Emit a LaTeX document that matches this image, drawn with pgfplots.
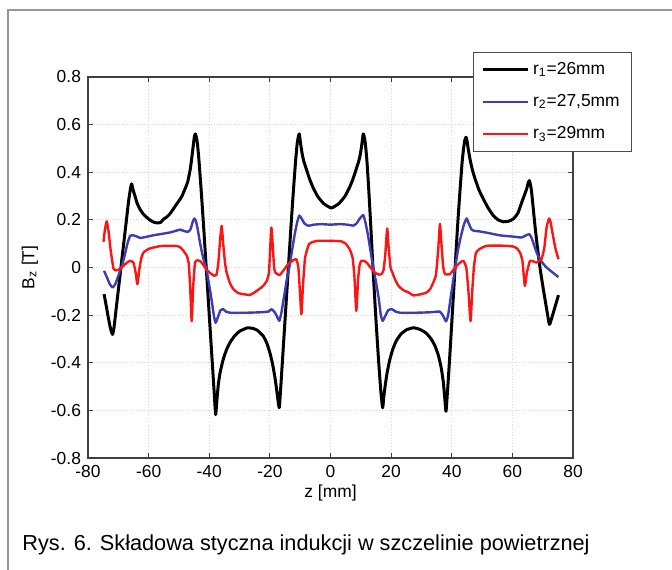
\documentclass[border=0pt]{standalone}
\usepackage{fontspec}
\setmainfont{Liberation Sans}
\usepackage{pgfplots}
\pgfplotsset{compat=1.18}
\definecolor{mblue}{RGB}{60,60,180}
\definecolor{mred}{RGB}{255,20,20}
\definecolor{framegray}{RGB}{150,150,150}
\begin{document}
\begin{tikzpicture}
\path[use as bounding box] (0,0) rectangle (336pt,284.5pt);
\draw[line width=0.8pt, framegray] (4pt,-5pt) -- (4pt,279.5pt) -- (345pt,279.5pt);
\node[anchor=base west, font=\fontsize{10.85}{13}\selectfont, inner sep=0pt] at (11pt,9.5pt) {Rys. 6. Składowa styczna indukcji w szczelinie powietrznej};
\begin{axis}[
  at={(44pt,55.5pt)}, anchor=south west,
  scale only axis, width=242.5pt, height=190.5pt,
  xmin=-80, xmax=80, ymin=-0.8, ymax=0.8,
  xtick={-80,-60,-40,-20,0,20,40,60,80},
  xticklabels={-80,-60,-40,-20,0,20,40,60,80},
  ytick={-0.8,-0.6,-0.4,-0.2,0,0.2,0.4,0.6,0.8},
  yticklabels={-0.8,-0.6,-0.4,-0.2,0,0.2,0.4,0.6,0.8},
  tick pos=both, tick align=inside, major tick length=2.5pt,
  axis line style={draw=black!75, line width=0.6pt},
  tick style={draw=black!75, line width=0.5pt},
  grid=major, grid style={densely dotted, black!15, line width=0.4pt},
  tick label style={font=\fontsize{8.7}{10}\selectfont},
  label style={font=\fontsize{8.7}{10}\selectfont},
  xlabel={z [mm]}, ylabel={B\textsubscript{z} [T]},
  xlabel style={at={(axis description cs:0.5,-0.092)}, anchor=center},
  ylabel style={at={(axis description cs:-0.12,0.5)}, anchor=center},
  legend style={at={(0.793,1.066)}, anchor=north west, draw=black!70, line width=0.5pt, fill=white,
    font=\fontsize{8.7}{10}\selectfont, row sep=4.5pt, inner xsep=4pt, inner ysep=3pt},
  legend cell align=left,
  legend image code/.code={\draw[#1] (0pt,0pt) -- (22.5pt,0pt);},
  every axis plot/.append style={smooth, tension=0.3, line join=round},
]
\addplot[black, line width=1.5pt] coordinates {
(-74.7,-0.112) (-74.0,-0.16) (-73.3,-0.21) (-72.6,-0.255) (-71.9,-0.281) (-71.4,-0.25) (-70.5,-0.15) (-69.5,-0.04) (-68.5,0.07) (-67.5,0.18) (-66.6,0.28) (-66.0,0.33) (-65.6,0.351)
(-65.1,0.325) (-64.5,0.30) (-63.8,0.27) (-62.9,0.246) (-61.8,0.225) (-60.6,0.21) (-59.4,0.198) (-58.2,0.19) (-57.0,0.187) (-56.0,0.19) (-55.0,0.204) (-54.0,0.212) (-53.0,0.225) (-52.0,0.243) (-51.0,0.262) (-50.0,0.28) (-49.0,0.30) (-48.0,0.33) (-47.1,0.36) (-46.3,0.41) (-45.8,0.456) (-45.2,0.52) (-44.9,0.55) (-44.6,0.561)
(-44.3,0.55) (-43.9,0.52) (-43.4,0.45) (-42.7,0.33) (-41.9,0.18) (-41.0,0.0) (-40.0,-0.20) (-39.1,-0.38) (-38.4,-0.52) (-37.9,-0.618)
(-37.5,-0.56) (-37.0,-0.49) (-36.4,-0.44) (-35.4,-0.386) (-34.3,-0.345) (-33.2,-0.316) (-31.5,-0.285) (-29.9,-0.267) (-28.0,-0.256) (-27.4,-0.253) (-25.5,-0.256) (-24.0,-0.265) (-22.2,-0.288) (-21.0,-0.318) (-20.0,-0.358) (-19.2,-0.40) (-18.4,-0.456) (-17.8,-0.51) (-17.3,-0.56) (-16.9,-0.589)
(-16.5,-0.52) (-15.8,-0.38) (-14.9,-0.20) (-13.9,0.0) (-13.0,0.18) (-12.2,0.33) (-11.5,0.45) (-11.0,0.52) (-10.6,0.55) (-10.3,0.561)
(-9.8,0.514) (-9.3,0.474) (-8.8,0.446) (-7.8,0.406) (-6.8,0.368) (-5.8,0.337) (-4.3,0.30) (-2.3,0.269) (0.25,0.25) (2.8,0.269) (4.8,0.30) (6.3,0.337) (7.3,0.368) (8.3,0.406) (9.3,0.446) (9.8,0.474) (10.3,0.514) (10.8,0.561)
(11.1,0.55) (11.5,0.52) (12.0,0.45) (12.6,0.33) (13.3,0.17) (14.0,0.0) (14.9,-0.2) (15.8,-0.38) (16.6,-0.52) (17.2,-0.589)
(17.6,-0.54) (18.1,-0.49) (18.7,-0.44) (19.5,-0.39) (20.5,-0.345) (21.6,-0.31) (23.2,-0.28) (25.0,-0.262) (27.3,-0.253) (29.5,-0.26) (31.5,-0.275) (33.2,-0.30) (34.5,-0.33) (35.6,-0.37) (36.5,-0.42) (37.2,-0.48) (37.7,-0.55) (38.1,-0.604)
(38.7,-0.50) (39.4,-0.36) (40.2,-0.19) (41.1,0.0) (41.9,0.17) (42.7,0.32) (43.4,0.44) (43.9,0.50) (44.3,0.535) (44.7,0.547)
(45.0,0.535) (45.4,0.50) (46.0,0.456) (46.8,0.41) (47.7,0.372) (49.0,0.325) (50.4,0.288) (52.0,0.25) (53.7,0.218) (55.3,0.20) (57.0,0.192) (58.7,0.194) (60.3,0.204) (61.8,0.228) (63.1,0.274) (64.0,0.305) (64.7,0.33) (65.2,0.355) (65.6,0.365)
(66.0,0.345) (66.35,0.316) (67.45,0.175) (68.3,0.08) (69.1,0.0) (70.0,-0.075) (70.75,-0.133) (71.5,-0.19) (72.2,-0.239) (72.8,-0.22) (73.5,-0.19) (74.3,-0.155) (75.2,-0.116)
};
\addlegendentry{r\textsubscript{1}=26mm}
\addplot[mblue, line width=1.2pt] coordinates {
(-74.7,-0.014) (-73.8,-0.04) (-72.8,-0.07) (-71.9,-0.084) (-71.0,-0.07) (-70.0,-0.035) (-69.0,0.0) (-68.0,0.045) (-67.0,0.10) (-66.1,0.133) (-65.0,0.135) (-63.5,0.128) (-62.8,0.124) (-61.0,0.128) (-58.5,0.135) (-56.2,0.14) (-53.0,0.147) (-50.5,0.156) (-49.6,0.159) (-48.0,0.152) (-47.0,0.15) (-46.2,0.16) (-45.5,0.19) (-44.9,0.206) (-44.4,0.195) (-43.8,0.16) (-43.0,0.10) (-42.0,0.04) (-41.1,0.0) (-40.2,-0.06) (-39.3,-0.13) (-38.5,-0.20) (-37.9,-0.232) (-37.2,-0.21) (-36.3,-0.18) (-35.4,-0.175) (-34.5,-0.185) (-33.0,-0.19) (-28.0,-0.19) (-23.0,-0.188) (-20.5,-0.185) (-19.4,-0.175) (-18.3,-0.19) (-17.5,-0.21) (-16.9,-0.224) (-16.2,-0.19) (-15.3,-0.12) (-14.4,-0.05) (-13.6,0.0) (-12.7,0.07) (-11.8,0.14) (-11.0,0.19) (-10.3,0.218) (-9.5,0.205) (-8.6,0.185) (-7.3,0.175) (-5.5,0.18) (-3.0,0.182) (0.0,0.18) (3.0,0.182) (5.5,0.18) (7.5,0.176) (8.6,0.185) (9.6,0.205) (10.8,0.22) (11.5,0.19) (12.3,0.14) (13.2,0.07) (14.1,0.0) (15.0,-0.06) (15.9,-0.13) (16.6,-0.20) (17.2,-0.224) (18.0,-0.205) (19.0,-0.18) (20.2,-0.175) (21.5,-0.185) (23.0,-0.19) (28.0,-0.19) (33.0,-0.188) (36.0,-0.185) (37.0,-0.20) (38.1,-0.226) (38.8,-0.20) (39.6,-0.13) (40.3,-0.07) (41.1,0.0) (42.0,0.07) (43.0,0.13) (44.0,0.18) (44.9,0.206) (45.6,0.185) (46.5,0.16) (47.3,0.154) (49.0,0.152) (52.0,0.145) (55.9,0.135) (60.0,0.13) (63.0,0.126) (64.5,0.135) (65.6,0.14) (66.3,0.125) (67.0,0.10) (68.0,0.063) (69.1,0.035) (70.2,0.015) (71.3,0.0) (73.0,-0.018) (75.2,-0.04)
};
\addlegendentry{r\textsubscript{2}=27,5mm}
\addplot[mred, line width=1.2pt] coordinates {
(-74.9,0.108) (-74.4,0.16) (-73.8,0.194) (-73.2,0.15) (-72.5,0.07) (-71.6,-0.004) (-70.8,-0.012) (-70.0,-0.01) (-68.5,0.005) (-67.2,0.02) (-66.1,0.028) (-65.0,0.02) (-64.3,-0.02) (-63.7,-0.07) (-63.1,-0.01) (-62.4,0.04) (-61.7,0.063) (-60.0,0.078) (-58.4,0.084) (-56.0,0.09) (-53.0,0.091) (-50.5,0.09) (-49.6,0.085) (-48.5,0.07) (-47.4,0.049) (-46.8,0.02) (-46.3,-0.08) (-45.8,-0.225) (-45.3,-0.08) (-44.7,0.021) (-43.9,0.03) (-43.1,0.028) (-42.2,0.015) (-41.4,0.0) (-40.2,-0.018) (-39.2,-0.028) (-38.3,-0.035) (-37.6,-0.03) (-37.0,0.02) (-36.4,0.12) (-35.9,0.175) (-35.4,0.10) (-34.8,0.02) (-34.3,-0.02) (-33.2,-0.065) (-32.1,-0.09) (-30.5,-0.107) (-28.8,-0.112) (-26.6,-0.115) (-25.5,-0.108) (-24.0,-0.095) (-22.2,-0.077) (-21.0,-0.055) (-20.3,-0.02) (-19.9,0.08) (-19.5,0.168) (-19.0,0.08) (-18.6,0.0) (-18.2,-0.021) (-16.8,-0.032) (-15.4,-0.01) (-14.0,0.014) (-12.6,0.028) (-11.3,0.035) (-10.6,0.0) (-10.1,-0.10) (-9.6,-0.196) (-9.1,-0.08) (-8.4,0.04) (-7.1,0.098) (-5.6,0.108) (-4.2,0.112) (0.0,0.112) (3.5,0.11) (5.0,0.10) (6.3,0.077) (7.3,0.04) (7.9,-0.04) (8.5,-0.182) (9.1,-0.05) (9.6,0.01) (10.2,0.028) (11.0,0.028) (11.9,0.021) (13.2,0.0) (14.6,-0.021) (16.0,-0.03) (16.8,-0.028) (17.5,-0.01) (18.1,0.06) (18.7,0.164) (19.2,0.08) (19.8,0.0) (20.4,-0.021) (21.3,-0.05) (22.4,-0.077) (24.0,-0.095) (25.8,-0.105) (27.3,-0.117) (29.5,-0.113) (31.7,-0.105) (32.9,-0.09) (33.9,-0.063) (34.8,-0.03) (35.5,0.07) (36.1,0.183) (36.7,0.08) (37.2,0.0) (37.8,-0.028) (39.4,-0.028) (40.5,-0.01) (41.6,0.007) (42.7,0.02) (43.8,0.028) (44.8,0.0) (45.5,-0.10) (46.2,-0.225) (46.8,-0.09) (47.3,0.0) (48.0,0.063) (49.5,0.08) (51.5,0.091) (55.0,0.092) (58.0,0.091) (60.3,0.088) (61.5,0.08) (62.5,0.063) (63.3,0.03) (64.1,-0.077) (64.8,-0.02) (65.8,0.028) (67.0,0.025) (68.0,0.021) (69.0,0.028) (69.6,0.035) (70.5,0.08) (71.3,0.17) (72.1,0.206) (72.6,0.19) (73.3,0.14) (74.2,0.08) (75.2,0.035)
};
\addlegendentry{r\textsubscript{3}=29mm}
\end{axis}
\end{tikzpicture}
\end{document}
